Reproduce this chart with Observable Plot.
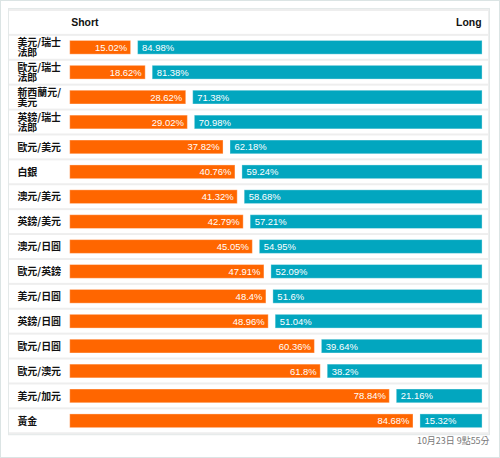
<!DOCTYPE html>
<html>
<head>
<meta charset="utf-8">
<script src="https://cdn.jsdelivr.net/npm/d3@7"></script>
<script src="https://cdn.jsdelivr.net/npm/@observablehq/plot@0.6"></script>
<style>
  html, body { margin: 0; padding: 0; background: #fff; }
  #chart { position: relative; width: 500px; height: 458px; box-sizing: border-box; border: 1px solid #dbe4e4; background: #fff; }
  #chart svg { position: absolute; left: -1px; top: -1px; background: transparent; }
</style>
</head>
<body>
<div id="chart"></div>
<script>
const categories = ["美元/瑞士法郎","歐元/瑞士法郎","新西蘭元/美元","英鎊/瑞士法郎","歐元/美元","白銀","澳元/美元","英鎊/美元","澳元/日圓","歐元/英鎊","美元/日圓","英鎊/日圓","歐元/日圓","歐元/澳元","美元/加元","黃金"];
const labels = ["美元/瑞士\n法郎","歐元/瑞士\n法郎","新西蘭元/\n美元","英鎊/瑞士\n法郎","歐元/美元","白銀","澳元/美元","英鎊/美元","澳元/日圓","歐元/英鎊","美元/日圓","英鎊/日圓","歐元/日圓","歐元/澳元","美元/加元","黃金"];
const shortValues = [15.02,18.62,28.62,29.02,37.82,40.76,41.32,42.79,45.05,47.91,48.4,48.96,60.36,61.8,78.84,84.68];
const longValues = [84.98,81.38,71.38,70.98,62.18,59.24,58.68,57.21,54.95,52.09,51.6,51.04,39.64,38.2,21.16,15.32];
const headerShort = "Short";
const headerLong = "Long";
const caption = "10月23日 9點55分";
const HEADER = "__header__";

const data = categories.map((c, i) => ({cat: c, label: labels[i], short: shortValues[i], long: longValues[i]}));
const rows = [HEADER, ...categories];

const orange = "#ff6600";
const teal = "#02a6bf";
const font = "'Liberation Sans', Arial, 'Noto Sans CJK TC', sans-serif";
const cjkFont = "'Noto Sans CJK TC', 'Liberation Sans', sans-serif";

const chart = Plot.plot({
  width: 500,
  height: 458,
  marginLeft: 8,
  marginRight: 9,
  marginTop: 8,
  marginBottom: 22,
  style: {fontFamily: font, background: "transparent"},
  x: {domain: [0, 100], range: [70, 477], axis: null},
  y: {type: "band", domain: rows, padding: 0, axis: null},
  marks: [
    Plot.frame({fill: "#eeeeee", stroke: "#e4e9e9"}),
    Plot.barX(rows, {y: d => d, x1: 0, x2: 100, fill: "white", insetTop: 1, insetBottom: 1, insetLeft: -61, insetRight: -13}),
    Plot.text([headerShort], {x: 0, y: () => HEADER, text: d => d, textAnchor: "start", dx: 1, fontWeight: "bold", fontSize: 10.5, fill: "#111"}),
    Plot.text([headerLong], {x: 100, y: () => HEADER, text: d => d, textAnchor: "end", dx: 6, fontWeight: "bold", fontSize: 10.5, fill: "#111"}),
    Plot.barX(data, {y: "cat", x1: 0, x2: "short", fill: orange, insetTop: 5.6, insetBottom: 5.6, stroke: "white", strokeOpacity: 0.35, strokeWidth: 1}),
    Plot.barX(data, {y: "cat", x1: "short", x2: 100, dx: 7, fill: teal, insetTop: 5.6, insetBottom: 5.6, stroke: "white", strokeOpacity: 0.35, strokeWidth: 1}),
    Plot.text(data, {y: "cat", x: "short", text: d => d.short + "%", textAnchor: "end", dx: -4, fill: "white", fontSize: 9.5}),
    Plot.text(data, {y: "cat", x: "short", text: d => d.long + "%", textAnchor: "start", dx: 11, fill: "white", fontSize: 9.5}),
    Plot.text(data, {y: "cat", frameAnchor: "left", text: "label", textAnchor: "start", dx: 9, fill: "#111", fontWeight: "bold", fontSize: 10, lineHeight: 1.02, fontFamily: cjkFont}),
    Plot.text([caption], {frameAnchor: "bottom-right", text: d => d, textAnchor: "end", dy: 9, fill: "#777", fontSize: 9, fontFamily: cjkFont})
  ]
});
document.getElementById("chart").appendChild(chart);
</script>
</body>
</html>
